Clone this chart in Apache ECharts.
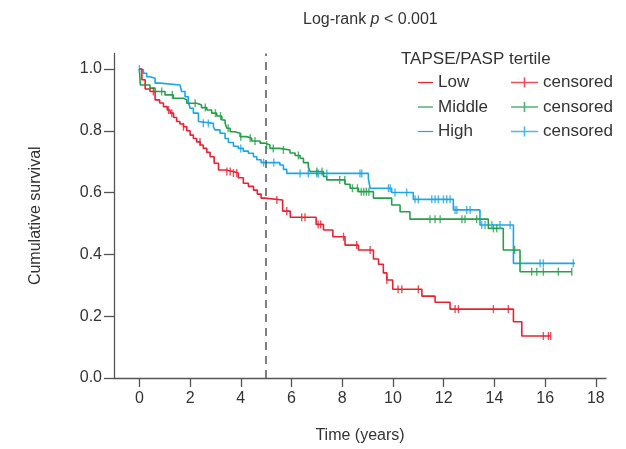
<!DOCTYPE html>
<html>
<head>
<meta charset="utf-8">
<script src="https://cdn.jsdelivr.net/npm/echarts@6/dist/echarts.min.js"></script>
<style>
html,body{margin:0;padding:0;background:#fff;}
#chart{width:626px;height:449px;}
</style>
</head>
<body>
<div id="chart"></div>
<script>
// ---- data ----
const xTicks = [0, 2, 4, 6, 8, 10, 12, 14, 16, 18];
const yTicks = [0, 0.2, 0.4, 0.6, 0.8, 1.0];

// Kaplan–Meier step points [time, survival]
const lowSteps = [[0,1.0],[0.1,0.965],[0.23,0.935],[0.42,0.927],[0.62,0.9],[0.8,0.89],[0.95,0.878],[1.1,0.867],[1.21,0.857],[1.35,0.843],[1.47,0.83],[1.6,0.822],[1.74,0.813],[1.87,0.8],[2.0,0.786],[2.13,0.775],[2.26,0.764],[2.4,0.754],[2.52,0.743],[2.66,0.73],[2.79,0.716],[2.95,0.695],[3.12,0.673],[3.4,0.668],[3.7,0.663],[3.9,0.648],[4.1,0.63],[4.3,0.62],[4.5,0.608],[4.65,0.595],[4.8,0.582],[4.95,0.576],[5.65,0.54],[5.95,0.52],[6.97,0.497],[7.26,0.479],[7.63,0.457],[8.11,0.43],[8.64,0.414],[9.23,0.385],[9.43,0.368],[9.62,0.34],[9.76,0.317],[9.99,0.287],[11.14,0.265],[11.66,0.245],[12.25,0.223],[14.75,0.182],[15.08,0.136],[16.22,0.136]];
const midSteps = [[0,1.0],[0.02,0.975],[0.04,0.948],[0.42,0.938],[0.62,0.927],[1.01,0.916],[1.34,0.905],[1.74,0.9],[1.87,0.889],[2.26,0.883],[2.45,0.875],[2.66,0.867],[2.85,0.857],[3.05,0.848],[3.25,0.835],[3.38,0.824],[3.45,0.808],[3.58,0.797],[3.77,0.792],[3.97,0.781],[4.23,0.776],[4.43,0.767],[4.76,0.76],[4.96,0.754],[5.15,0.743],[5.54,0.738],[5.94,0.728],[6.14,0.72],[6.34,0.711],[6.47,0.697],[6.66,0.684],[6.73,0.668],[7.26,0.652],[7.39,0.641],[8.11,0.627],[8.31,0.614],[8.64,0.603],[9.23,0.582],[9.95,0.56],[10.28,0.538],[10.67,0.514],[13.76,0.484],[14.35,0.414],[15.01,0.344],[17.05,0.344]];
const highSteps = [[0,1.0],[0.03,0.997],[0.16,0.986],[0.29,0.975],[0.42,0.97],[0.62,0.954],[0.82,0.948],[1.6,0.948],[1.67,0.927],[1.8,0.91],[1.93,0.894],[2.0,0.873],[2.13,0.857],[2.33,0.83],[2.39,0.824],[2.92,0.813],[2.98,0.803],[3.18,0.792],[3.38,0.775],[3.51,0.762],[3.71,0.75],[3.9,0.743],[4.1,0.734],[4.3,0.727],[4.5,0.716],[4.63,0.706],[4.8,0.697],[5.54,0.689],[5.68,0.675],[5.81,0.662],[9.03,0.645],[9.1,0.614],[9.95,0.6],[10.8,0.578],[12.38,0.544],[13.43,0.495],[14.75,0.371],[17.18,0.371]];

// censoring times
const lowCensor = [0.55,1.15,1.28,1.74,2.39,3.45,3.58,3.71,3.84,5.42,5.81,6.4,6.53,7.05,7.15,8.05,8.57,9.1,9.76,10.2,10.35,11.0,12.45,12.58,13.96,14.55,15.93,16.13,16.22];
const midCensor = [0.88,1.3,2.2,2.6,3.0,3.2,3.5,4.0,4.37,4.56,5.02,5.28,5.68,6.27,7.0,7.2,7.9,8.1,8.4,8.6,8.75,8.85,8.95,9.05,11.46,11.66,11.86,12.72,12.84,13.3,13.96,14.09,14.8,15.47,15.67,15.93,16.52,17.05];
const highCensor = [0,2.52,2.72,4.0,4.9,5.3,6.34,6.66,7.0,7.06,7.39,8.7,8.77,9.82,9.89,10.08,10.54,10.87,11.0,11.53,11.66,11.79,11.99,12.12,12.25,12.45,12.52,12.91,13.04,13.5,13.63,13.9,14.22,14.62,15.8,15.93,17.11];

const cutoffYear = 5;
const groupNames = ['Low', 'Middle', 'High'];

// ---- build ----
function survAt(steps, t) {
  let v = steps[0][1];
  for (const p of steps) { if (p[0] <= t + 1e-9) v = p[1]; else break; }
  return v;
}
const colors = ['#e8232f', '#25a048', '#1ba6e6'];
const stepsAll = [lowSteps, midSteps, highSteps];
const censAll = [lowCensor, midCensor, highCensor];
const FONT = 'Liberation Sans, Arial, sans-serif';

const series = [];
groupNames.forEach((g, i) => {
  const s = {
    name: g, type: 'line', step: 'end', data: stepsAll[i],
    symbol: 'none', lineStyle: { color: colors[i], width: 1.6 },
    itemStyle: { color: colors[i] }, z: 3 - i + 2, animation: false
  };
  if (i === 0) {
    s.markLine = {
      silent: true, symbol: 'none', label: { show: false },
      lineStyle: { color: '#555', type: [8, 6], width: 1.5 },
      data: [{ xAxis: cutoffYear }], animation: false
    };
  }
  series.push(s);
});
groupNames.forEach((g, i) => {
  series.push({
    name: g + ' censored', type: 'scatter',
    data: censAll[i].map(t => [t, survAt(stepsAll[i], t)]),
    symbol: 'rect', symbolSize: [1.4, 8],
    itemStyle: { color: colors[i] }, z: 6 - i, animation: false
  });
});

const lineIcon = 'path://M0,0H20V1.6H0Z';
const censIcon = 'path://M0,4.2H27V5.8H0ZM12.7,0H14.3V10H12.7Z';

const chart = echarts.init(document.getElementById('chart'), null, { renderer: 'canvas' });
chart.setOption({
  backgroundColor: '#fff',
  animation: false,
  title: [{
    text: '{a|Log-rank }{b|p}{a| < 0.001}',
    left: 298, top: 7,
    textStyle: { fontWeight: 'normal', rich: {
      a: { fontFamily: FONT, fontSize: 16, color: '#333', fontWeight: 'normal' },
      b: { fontFamily: FONT, fontSize: 16, color: '#333', fontStyle: 'italic', fontWeight: 'normal' }
    } }
  }, {
    text: 'TAPSE/PASP tertile',
    left: 396, top: 46,
    textStyle: { fontFamily: FONT, fontSize: 17, color: '#333', fontWeight: 'normal' }
  }],
  legend: [{
    orient: 'vertical', left: 413, top: 69,
    itemWidth: 15, itemHeight: 14, itemGap: 7.5,
    textStyle: { fontFamily: FONT, fontSize: 17, color: '#333', lineHeight: 17 },
    data: groupNames.map((g, i) => ({ name: g, icon: lineIcon, itemStyle: { color: colors[i] } })),
    selectedMode: false
  }, {
    orient: 'vertical', left: 506, top: 69,
    itemWidth: 27, itemHeight: 10, itemGap: 7.5,
    textStyle: { fontFamily: FONT, fontSize: 17, color: '#333', lineHeight: 17 },
    formatter: () => 'censored',
    data: groupNames.map((g, i) => ({ name: g + ' censored', icon: censIcon, itemStyle: { color: colors[i] } })),
    selectedMode: false
  }],
  grid: { left: 114, right: 20, top: 53.5, bottom: 71, outerBoundsMode: 'none', containLabel: false },
  xAxis: {
    type: 'value', min: -1, max: 18.4,
    name: 'Time (years)', nameLocation: 'middle', nameGap: 50,
    nameTextStyle: { fontFamily: FONT, fontSize: 16, color: '#333' },
    axisLine: { show: true, onZero: false, lineStyle: { color: '#555', width: 1.3 } },
    axisTick: { show: true, length: 9, customValues: xTicks, lineStyle: { color: '#555', width: 1.3 } },
    axisLabel: { customValues: xTicks, fontFamily: FONT, fontSize: 16, color: '#333', margin: 13 },
    splitLine: { show: false }
  },
  yAxis: {
    type: 'value', min: 0, max: 1.05,
    name: 'Cumulative survival', nameLocation: 'middle', nameGap: 70, nameRotate: 90,
    nameTextStyle: { fontFamily: FONT, fontSize: 16, color: '#333', padding: [0, 0, 0, 0] },
    axisLine: { show: true, onZero: false, lineStyle: { color: '#555', width: 1.3 } },
    axisTick: { show: true, length: 10, customValues: yTicks, lineStyle: { color: '#555', width: 1.3 } },
    axisLabel: { customValues: yTicks, formatter: v => v.toFixed(1), fontFamily: FONT, fontSize: 16, color: '#333', margin: 12 },
    splitLine: { show: false }
  },
  series: series
});
</script>
</body>
</html>
